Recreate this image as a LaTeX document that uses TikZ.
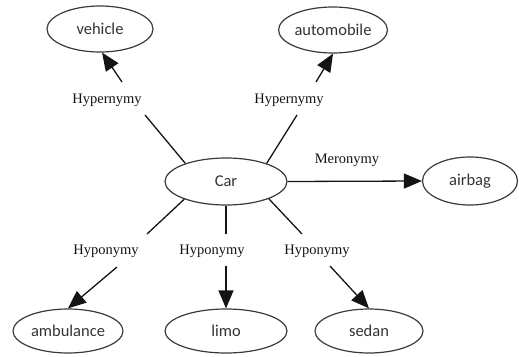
\documentclass[tikz,border=0pt]{standalone}
\usepackage{fontspec}
\setmainfont{Liberation Serif}
\newfontfamily\nodefont{Carlito}
\usetikzlibrary{arrows.meta,shapes.geometric}
\definecolor{edgecol}{HTML}{141414}
\definecolor{ovalcol}{HTML}{3A3A3A}
\definecolor{txtcol}{HTML}{333333}
\tikzset{
  oval/.style={ellipse, draw=ovalcol, line width=1.2pt, inner sep=0pt,
    font=\nodefont\fontsize{16.5}{18}\selectfont, text=txtcol},
  rel/.style={font=\fontsize{14.5}{16}\selectfont, text=edgecol, inner sep=1pt},
  link/.style={draw=edgecol, line width=1.3pt},
  arr/.style={link, -{Triangle[length=18pt,width=15pt]}}
}
\begin{document}
\begin{tikzpicture}[x=1pt,y=-1pt]
\useasboundingbox (0,0) rectangle (519,356);
% nodes
\node[oval, minimum width=122pt, minimum height=47pt] (car) at (226,181.5) {Car};
\node[oval, minimum width=106pt, minimum height=46pt] (vehicle) at (100,29) {vehicle};
\node[oval, minimum width=97pt, minimum height=46pt] (automobile) at (333,30) {automobile};
\node[oval, minimum width=95pt, minimum height=48pt] (airbag) at (470,181) {airbag};
\node[oval, minimum width=110pt, minimum height=44pt] (ambulance) at (68,331) {ambulance};
\node[oval, minimum width=122pt, minimum height=44pt] (limo) at (226,331) {limo};
\node[oval, minimum width=108pt, minimum height=44pt] (sedan) at (369,331) {sedan};
% gap coordinates
\coordinate (g1a) at (145,115); \coordinate (g1b) at (122,82);
\coordinate (g2a) at (297,115); \coordinate (g2b) at (316,82);
\coordinate (g3a) at (147,234); \coordinate (g3b) at (117,267);
\coordinate (g4a) at (226,234); \coordinate (g4b) at (226,266);
\coordinate (g5a) at (302,234); \coordinate (g5b) at (330,266);
% labels
\node[rel] (l1) at (107,100) {Hypernymy};
\node[rel] (l2) at (289,100) {Hypernymy};
\node[rel] (l3) at (347,160) {Meronymy};
\node[rel] (l4) at (106,251) {Hyponymy};
\node[rel] (l5) at (212,251) {Hyponymy};
\node[rel] (l6) at (317,251) {Hyponymy};
% edges
\draw[link] (car.156) -- (g1a);
\draw[arr] (g1b) -- (vehicle.275);
\draw[link] (car.24) -- (g2a);
\draw[arr] (g2b) -- (automobile.south);
\draw[arr] (car.east) -- (airbag.west);
\draw[link] (car.203) -- (g3a);
\draw[arr] (g3b) -- (ambulance.north);
\draw[link] (car.south) -- (g4a);
\draw[arr] (g4b) -- (limo.north);
\draw[link] (car.338) -- (g5a);
\draw[arr] (g5b) -- (sedan.north);
\end{tikzpicture}
\end{document}
